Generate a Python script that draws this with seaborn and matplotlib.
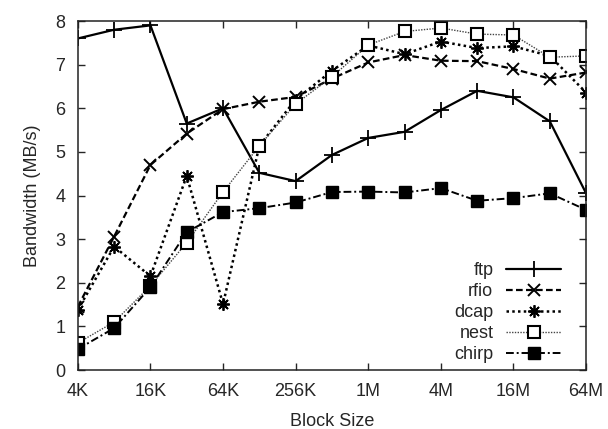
import matplotlib
matplotlib.use("Agg")
import matplotlib.pyplot as plt
import seaborn as sns
import pandas as pd
from matplotlib.ticker import FixedLocator, NullLocator

sns.set_style("ticks")
plt.rcParams['font.family'] = ['Liberation Sans', 'DejaVu Sans']

block_kb = [4, 8, 16, 32, 64, 128, 256, 512, 1024, 2048, 4096, 8192, 16384, 32768, 65536]
tick_kb = [4, 16, 64, 256, 1024, 4096, 16384, 65536]
tick_labels = ["4K", "16K", "64K", "256K", "1M", "4M", "16M", "64M"]

ftp = [7.6, 7.8, 7.9, 5.65, 6.0, 4.52, 4.33, 4.93, 5.32, 5.46, 5.96, 6.4, 6.25, 5.7, 4.05]
rfio = [1.45, 3.06, 4.7, 5.42, 5.98, 6.15, 6.26, 6.68, 7.05, 7.22, 7.09, 7.08, 6.9, 6.68, 6.82]
dcap = [1.38, 2.83, 2.15, 4.45, 1.51, 5.14, 6.2, 6.86, 7.44, 7.24, 7.53, 7.38, 7.42, 7.2, 6.36]
nest = [0.62, 1.1, 1.93, 2.92, 4.08, 5.14, 6.1, 6.72, 7.45, 7.76, 7.84, 7.7, 7.68, 7.17, 7.2]
chirp = [0.48, 0.96, 1.9, 3.16, 3.62, 3.71, 3.84, 4.08, 4.09, 4.07, 4.17, 3.88, 3.94, 4.05, 3.67]

series = {"ftp": ftp, "rfio": rfio, "dcap": dcap, "nest": nest, "chirp": chirp}
frames = [pd.DataFrame({"block": block_kb, "bw": v, "proto": k}) for k, v in series.items()]
df = pd.concat(frames, ignore_index=True)

styles = {
    "ftp": dict(linestyle="-", marker="+", markersize=11, mew=1.3, lw=1.6, color="black",
                markeredgecolor="black"),
    "rfio": dict(linestyle=(0, (3, 1.5)), marker="x", markersize=9, mew=1.4, lw=1.6, color="black",
                 markeredgecolor="black"),
    "dcap": dict(linestyle=(0, (1, 1.3)), marker=(8, 2, 0), markersize=9, mew=1.3, lw=1.8, color="black",
                 markeredgecolor="black"),
    "nest": dict(linestyle=(0, (1, 1)), marker="s", markersize=8.5, mew=1.5, lw=1.0, color="#444444",
                 markerfacecolor="white", markeredgecolor="black"),
    "chirp": dict(linestyle=(0, (4, 1.5, 1, 1.5)), marker="s", markersize=9, mew=1, lw=1.4, color="black",
                  markeredgecolor="black"),
}

fig = plt.figure(figsize=(6.08, 4.29), dpi=100)
ax = fig.add_axes([0.128, 0.1375, 0.836, 0.8135])

for name in series:
    sub = df[df["proto"] == name]
    sns.lineplot(data=sub, x="block", y="bw", ax=ax, label=name, **styles[name])

ax.set_xscale("log", base=2)
ax.set_xlim(4, 65536)
ax.set_ylim(0, 8)
ax.xaxis.set_major_locator(FixedLocator(tick_kb))
ax.set_xticklabels(tick_labels)
ax.xaxis.set_minor_locator(NullLocator())
ax.set_yticks(range(0, 9))
ax.tick_params(direction="in", top=True, right=True, labelsize=13, length=5, width=1)
ax.tick_params(axis="x", pad=9)
ax.tick_params(axis="y", pad=9)
for s in ax.spines.values():
    s.set_linewidth(1.1)
    s.set_color("#222222")
ax.set_xlabel("Block Size", fontsize=13, labelpad=10)
ax.set_ylabel("Bandwidth (MB/s)", fontsize=13, labelpad=10)

leg = ax.legend(loc="lower right", bbox_to_anchor=(0.972, -0.012), frameon=False, markerfirst=False,
                fontsize=13, handlelength=3.05, handletextpad=0.7, labelspacing=0.22, borderaxespad=0.2)

fig.savefig("out.png", dpi=100)
